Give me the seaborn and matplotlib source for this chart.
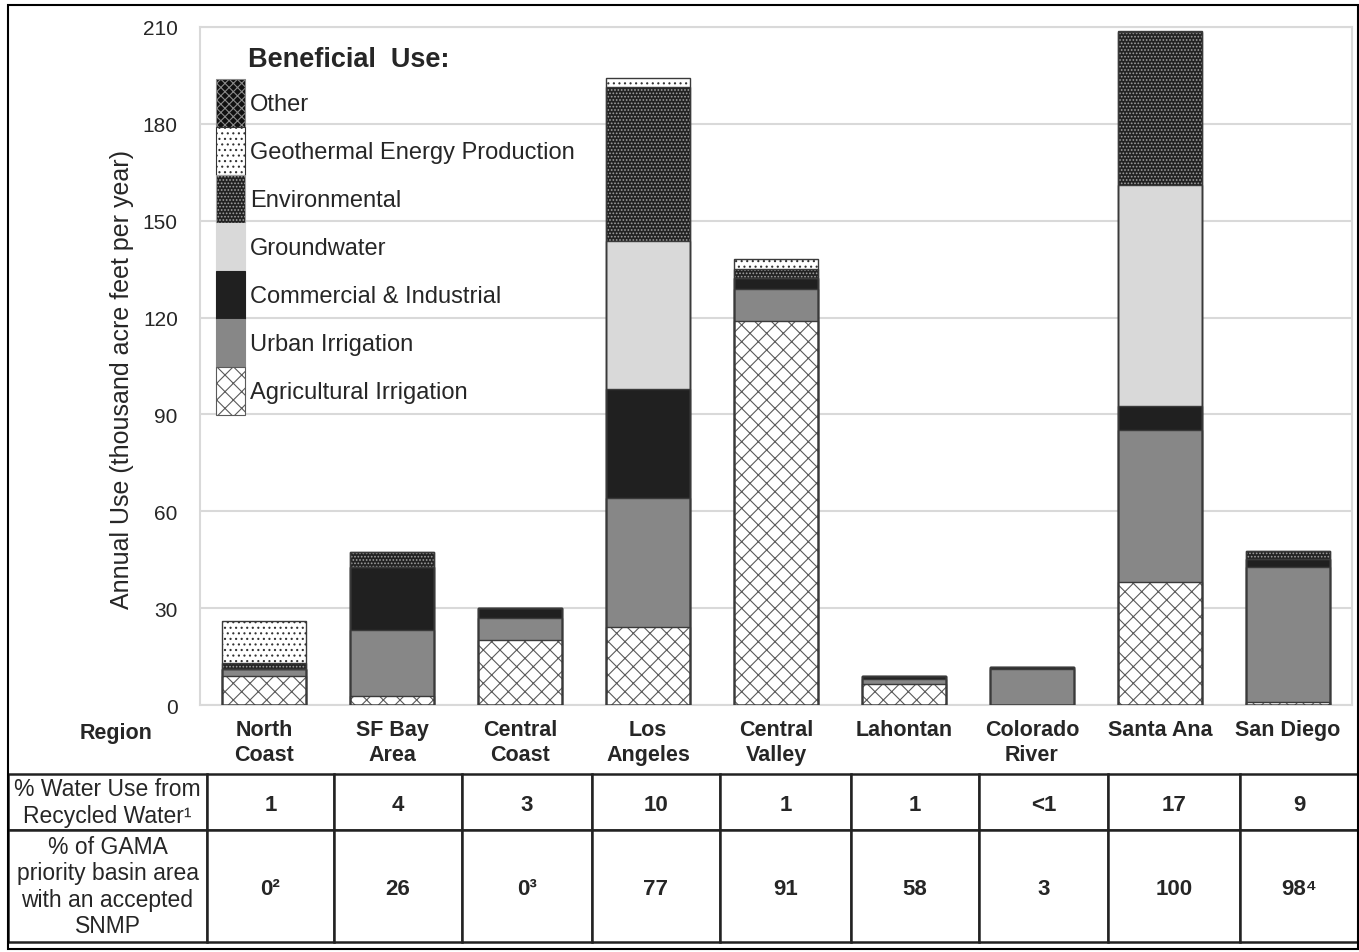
import numpy as np
import pandas as pd
import matplotlib.pyplot as plt
import matplotlib.patches as mpatches
import seaborn as sns

sns.set_style('white')
plt.rcParams['font.family'] = ['Liberation Sans', 'DejaVu Sans']
plt.rcParams['hatch.linewidth'] = 0.8

regions = ['North\nCoast', 'SF Bay\nArea', 'Central\nCoast', 'Los\nAngeles', 'Central\nValley',
           'Lahontan', 'Colorado\nRiver', 'Santa Ana', 'San Diego']
uses = ['Agricultural Irrigation', 'Urban Irrigation', 'Commercial & Industrial', 'Groundwater',
        'Environmental', 'Geothermal Energy Production', 'Other']

# thousand acre feet per year
agricultural = [9.1, 2.7, 20.2, 24.1, 118.9, 6.5, 0.0, 38.0, 0.8]
urban = [2.0, 20.6, 6.8, 39.9, 10.0, 1.7, 11.3, 47.1, 41.9]
commercial = [0.0, 19.5, 3.0, 34.0, 3.4, 0.7, 0.6, 7.5, 2.5]
groundwater = [0.0, 0.0, 0.0, 45.6, 0.0, 0.0, 0.0, 68.6, 0.0]
environmental = [2.0, 4.6, 0.0, 47.7, 2.8, 0.0, 0.0, 47.2, 2.4]
geothermal = [12.9, 0.0, 0.0, 3.0, 2.9, 0.0, 0.0, 0.4, 0.0]
other = [0.0, 0.0, 0.0, 0.0, 0.0, 0.0, 0.0, 0.0, 0.0]

recycled_pct = ['1', '4', '3', '10', '1', '1', '<1', '17', '9']
gama_pct = ['0\u00b2', '26', '0\u00b3', '77', '91', '58', '3', '100', '98\u2074']
row_labels = ['% Water Use from\nRecycled Water\u00b9',
              '% of GAMA\npriority basin area\nwith an accepted\nSNMP']

# face colour, hatch, hatch colour
styles = {
    'Agricultural Irrigation': ('white', 'xx', '#5a5a5a'),
    'Urban Irrigation': ('#878787', '', '#878787'),
    'Commercial & Industrial': ('#202020', '', '#202020'),
    'Groundwater': ('#d9d9d9', '', '#d9d9d9'),
    'Environmental': ('#222222', '.....', '#a0a0a0'),
    'Geothermal Energy Production': ('white', '...', '#333333'),
    'Other': ('#111111', 'xxxx', '#8a8a8a'),
}

df = pd.DataFrame({'region': regions,
                   uses[0]: agricultural, uses[1]: urban, uses[2]: commercial,
                   uses[3]: groundwater, uses[4]: environmental, uses[5]: geothermal,
                   uses[6]: other})
cum = df[uses].cumsum(axis=1)
cum.insert(0, 'region', regions)

W, H = 1359, 953
fig = plt.figure(figsize=(W / 100, H / 100), dpi=100)
ax = fig.add_axes([200 / W, 1 - 706 / H, 1152 / W, 678 / H])

# stacked bars: draw cumulative totals from the top layer down
for use in reversed(uses):
    face, hatch, hc = styles[use]
    sns.barplot(data=cum, x='region', y=use, facecolor=face, hatch=hatch, edgecolor=hc,
                linewidth=0, width=0.65, errorbar=None, ax=ax, zorder=3)
for use in reversed(uses):
    if (df[use] > 0).any():
        sns.barplot(data=cum, x='region', y=use, facecolor=(0, 0, 0, 0), edgecolor='#3a3a3a',
                    linewidth=1.0, width=0.65, errorbar=None, ax=ax, zorder=4)

ax.set_ylim(0, 210)
ax.set_xlim(-0.5, len(regions) - 0.5)
ax.set_yticks(np.arange(0, 211, 30))
ax.yaxis.grid(True, color='#d9d9d9', linewidth=1.5, zorder=0)
ax.set_axisbelow(True)
for s in ax.spines.values():
    s.set_color('#d9d9d9')
    s.set_linewidth(1.5)
ax.tick_params(axis='y', length=0, labelsize=15, pad=16)
ax.tick_params(axis='x', which='major', length=0, labelsize=15.5, pad=10)
for t in ax.get_xticklabels():
    t.set_fontweight('bold')
    t.set_linespacing(1.25)
ax.set_xticks(np.arange(-0.5, len(regions)), minor=True)
ax.tick_params(axis='x', which='minor', length=9, width=2, color='#c0c0c0')
ax.set_xlabel('')
ax.set_ylabel('Annual Use (thousand acre feet per year)', fontsize=18)
ax.yaxis.set_label_coords(-0.057, 0.482)

handles = [mpatches.Patch(facecolor=styles[u][0], hatch=styles[u][1], edgecolor=styles[u][2],
                          linewidth=0.8, label=u) for u in reversed(uses)]
ax.legend(handles=handles, loc='upper left', bbox_to_anchor=(16 / 1152, (706 - 80) / 678),
          frameon=False, fontsize=17, labelspacing=0, handleheight=2.75, handlelength=1.23,
          handletextpad=0.2, borderpad=0, borderaxespad=0)
ax.text(48 / 1152, (706 - 60) / 678, 'Beneficial  Use:', transform=ax.transAxes,
        fontsize=19.5, fontweight='bold', va='center', ha='left')

fig.text(116 / W, 1 - 734 / H, 'Region', fontsize=15.5, fontweight='bold', ha='center', va='center')

# table underneath
tax = fig.add_axes([8 / W, 10 / H, 1351 / W, 168 / H])
tax.axis('off')
cells = [[row_labels[0]] + recycled_pct, [row_labels[1]] + gama_pct]
widths = np.array([199, 127, 128, 130, 128, 131, 128, 129, 132, 119], dtype=float)
tbl = tax.table(cellText=cells, colWidths=list(widths / widths.sum()), cellLoc='center',
                bbox=[0, 0, 1, 1])
tbl.auto_set_font_size(False)
for (r, c), cell in tbl.get_celld().items():
    cell.set_height(1.0 if r == 0 else 2.0)
    cell.set_linewidth(1.8)
    cell.set_edgecolor('#222222')
    txt = cell.get_text()
    if c == 0:
        txt.set_fontsize(16.5)
        txt.set_linespacing(1.2)
        txt.set_va('center')
    else:
        txt.set_fontsize(16)
        txt.set_va('center_baseline')
        txt.set_fontweight('bold')

# outer frame
fig.add_artist(mpatches.Rectangle((8 / W, 1 - 950 / H), 1350 / W, 944 / H, transform=fig.transFigure,
                                  fill=False, edgecolor='black', linewidth=1.5))

fig.savefig('out.png', dpi=100)
